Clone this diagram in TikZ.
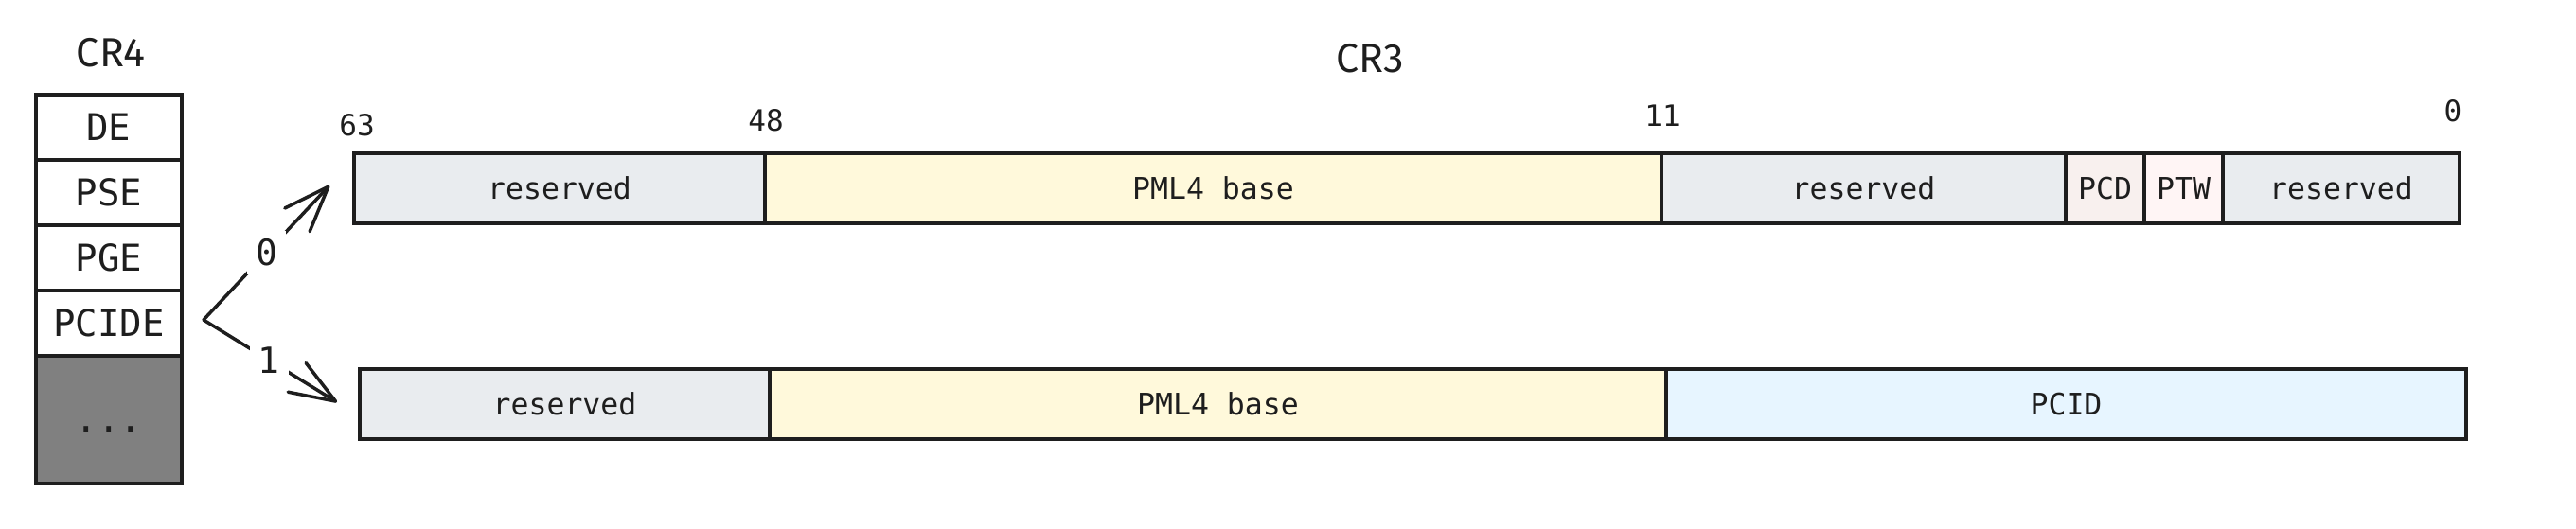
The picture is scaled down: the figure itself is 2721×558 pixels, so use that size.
\documentclass[tikz,border=0pt]{standalone}
\usepackage{fontspec}
\setmonofont{DejaVu Sans Mono}
\newfontfamily\titlefont{Fira Sans}
\usetikzlibrary{arrows.meta}
\definecolor{ink}{HTML}{1E1E1E}
\definecolor{resv}{HTML}{E9ECEF}
\definecolor{pmlbase}{HTML}{FFF9DB}
\definecolor{pcdfill}{HTML}{F8F0EE}
\definecolor{ptwfill}{HTML}{FFF5F5}
\definecolor{pcidfill}{HTML}{E7F5FF}
\definecolor{crgray}{HTML}{808080}
\newcommand{\cellfont}{\ttfamily\fontsize{31.5}{38}\selectfont}
\newcommand{\bigcellfont}{\ttfamily\fontsize{39}{46}\selectfont}
\newcommand{\bitfont}{\ttfamily\fontsize{31}{37}\selectfont}
\newcommand{\headfont}{\titlefont\fontsize{43}{52}\selectfont}
\begin{document}
\begin{tikzpicture}[x=1pt,y=-1pt,
  cell/.style={draw=ink, line width=3.5pt, inner sep=0pt, outer sep=0pt,
    anchor=north west, text=ink, font=\cellfont, minimum height=74pt},
  crcell/.style={draw=ink, line width=3.5pt, inner sep=0pt, outer sep=0pt,
    anchor=north west, text=ink, font=\bigcellfont, minimum width=154pt, minimum height=69pt, fill=white},
  bitlbl/.style={text=ink, font=\bitfont, inner sep=0pt},
  headlbl/.style={text=ink, font=\headfont, inner sep=0pt},
  fork/.style={draw=ink, line width=3.5pt, line cap=round, line join=round,
    -{Straight Barb[length=48pt, width=36pt, line width=3.5pt, round]}},
  forklbl/.style={fill=white, text=ink, font=\ttfamily\fontsize{38}{46}\selectfont, inner sep=9pt}
]
\useasboundingbox (0,0) rectangle (2721,558);

% CR4
\node[headlbl] (cr4title) at (117,56) {CR4};
\node[crcell] (de) at (38,100) {DE};
\node[crcell] (pse) at (38,169) {PSE};
\node[crcell] (pge) at (38,238) {PGE};
\node[crcell] (pcide) at (38,307) {PCIDE};
\node[crcell, fill=crgray, minimum height=135pt] (rest) at (38,376) {};
\node[text=ink, font=\bigcellfont, inner sep=0pt] (restdots) at ([yshift=-10pt]rest.center) {...};

% CR3 title and bit numbers
\node[headlbl] (cr3title) at (1447,62) {CR3};
\node[bitlbl] (b63) at (377,132) {63};
\node[bitlbl] (b48) at (809,127) {48};
\node[bitlbl] (b11) at (1756,122) {11};
\node[bitlbl] (b0) at (2591,117) {0};

% Row 1 (PCIDE = 0)
\node[cell, fill=resv, minimum width=434pt] (ra1) at (374,162) {reserved};
\node[cell, fill=pmlbase, minimum width=947pt] (ra2) at (808,162) {PML4 base};
\node[cell, fill=resv, minimum width=427pt] (ra3) at (1755,162) {reserved};
\node[cell, fill=pcdfill, minimum width=83pt] (ra4) at (2182,162) {PCD};
\node[cell, fill=ptwfill, minimum width=83pt] (ra5) at (2265,162) {PTW};
\node[cell, fill=resv, minimum width=250pt] (ra6) at (2348,162) {reserved};

% Row 2 (PCIDE = 1)
\node[cell, fill=resv, minimum width=433pt] (rb1) at (380,390) {reserved};
\node[cell, fill=pmlbase, minimum width=947pt] (rb2) at (813,390) {PML4 base};
\node[cell, fill=pcidfill, minimum width=845pt] (rb3) at (1760,390) {PCID};

% fork arrows
\coordinate (forkpt) at (215,338);
\coordinate (tip0) at (348,196);
\coordinate (tip1) at (356,425);
\draw[fork] (forkpt) -- node[forklbl, pos=0.5] (lbl0) {0} (tip0);
\draw[fork] (forkpt) -- node[forklbl, pos=0.49] (lbl1) {1} (tip1);
\end{tikzpicture}
\end{document}
